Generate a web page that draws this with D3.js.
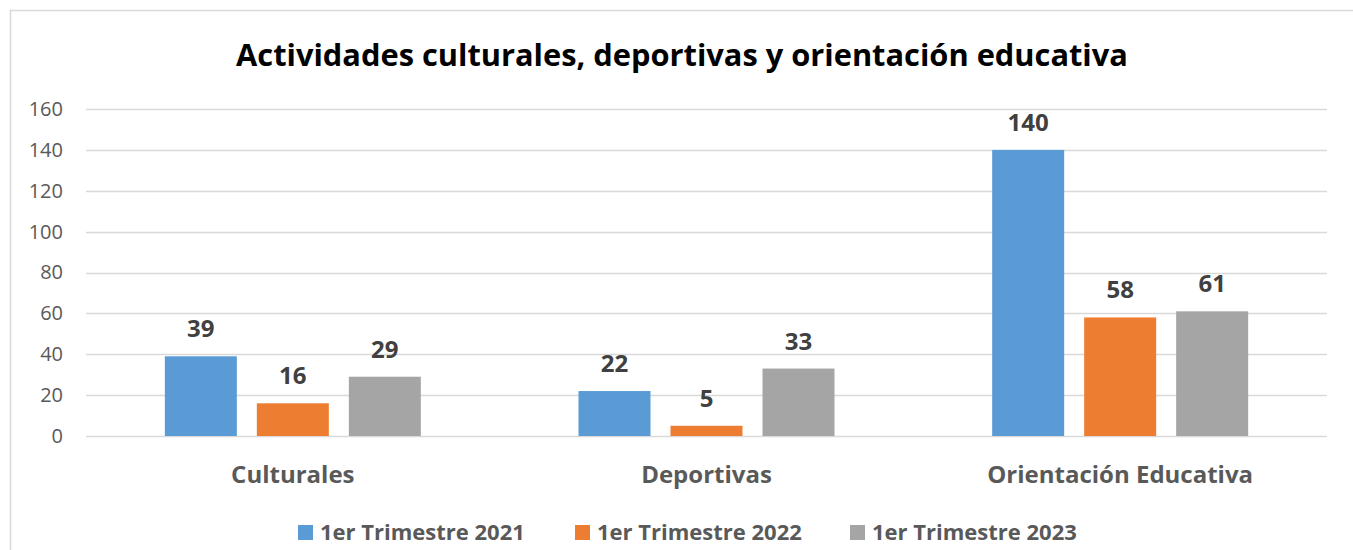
<!DOCTYPE html>
<html>
<head>
<meta charset="utf-8">
<script src="https://cdn.jsdelivr.net/npm/d3@7"></script>
<style>
  body { margin: 0; background: #fff; }
  svg { display: block; font-family: 'Open Sans', sans-serif; }
</style>
</head>
<body>
<div id="chart"></div>
<script>
var categories = ['Culturales', 'Deportivas', 'Orientación Educativa'];
var seriesNames = ['1er Trimestre 2021', '1er Trimestre 2022', '1er Trimestre 2023'];
var seriesColors = ['#5b9bd5', '#ed7d31', '#a5a5a5'];
var values2021 = [39, 22, 140];
var values2022 = [16, 5, 58];
var values2023 = [29, 33, 61];
var yTicks = [0, 20, 40, 60, 80, 100, 120, 140, 160];

var seriesValues = [values2021, values2022, values2023];

var width = 1353, height = 550;
var margin = {top: 109, right: 26, bottom: 114, left: 86};
var innerW = width - margin.left - margin.right,
    innerH = height - margin.top - margin.bottom;

var svg = d3.select('#chart')
    .append('svg')
    .attr('width', width)
    .attr('height', height);

//Chart frame
svg.append('rect')
    .attr('x', 10.5)
    .attr('y', 10.5)
    .attr('width', width)
    .attr('height', height)
    .style('fill', 'none')
    .style('stroke', '#d9d9d9')
    .style('stroke-width', 1.5);

svg.append('text')
    .attr('x', 682)
    .attr('y', 66)
    .attr('text-anchor', 'middle')
    .style('font-size', '30.8px')
    .style('font-weight', 700)
    .style('fill', '#000')
    .text('Actividades culturales, deportivas y orientación educativa');

var g = svg.append('g')
    .attr('transform', 'translate(' + margin.left + ',' + margin.top + ')');

var x0 = d3.scaleBand()
    .domain(categories)
    .range([0, innerW])
    .paddingInner(0)
    .paddingOuter(0);

var x1 = d3.scaleBand()
    .domain(d3.range(seriesNames.length))
    .range([0, 256])
    .paddingInner(20 / 92);

var y = d3.scaleLinear()
    .domain([0, 160])
    .range([innerH, 0]);

//Gridlines
g.selectAll('.grid')
    .data(yTicks)
    .enter()
    .append('line')
    .attr('x1', 0)
    .attr('x2', innerW)
    .attr('y1', function(d){ return Math.round(y(d)) + 0.5; })
    .attr('y2', function(d){ return Math.round(y(d)) + 0.5; })
    .style('stroke', '#d9d9d9')
    .style('stroke-width', 1.5);

//Y axis labels
var yAxis = g.append('g')
    .call(d3.axisLeft(y).tickValues(yTicks).tickSize(0).tickPadding(23));
yAxis.select('.domain').remove();
yAxis.selectAll('text')
    .style('font-family', "'Open Sans', sans-serif")
    .style('font-size', '20px')
    .style('fill', '#595959');

var groups = g.selectAll('.cat')
    .data(categories)
    .enter()
    .append('g')
    .attr('transform', function(d){
        return 'translate(' + (x0(d) + (x0.bandwidth() - 256) / 2) + ',0)';
    });

groups.selectAll('rect')
    .data(function(d, i){
        return seriesValues.map(function(s, j){ return {s: j, v: s[i]}; });
    })
    .enter()
    .append('rect')
    .attr('x', function(d){ return x1(d.s); })
    .attr('width', x1.bandwidth())
    .attr('y', function(d){ return y(d.v); })
    .attr('height', function(d){ return innerH - y(d.v); })
    .style('fill', function(d){ return seriesColors[d.s]; });

groups.selectAll('.lbl')
    .data(function(d, i){
        return seriesValues.map(function(s, j){ return {s: j, v: s[i]}; });
    })
    .enter()
    .append('text')
    .attr('x', function(d){ return x1(d.s) + x1.bandwidth() / 2; })
    .attr('y', function(d){ return y(d.v) - 19; })
    .attr('text-anchor', 'middle')
    .style('font-size', '24px')
    .style('font-weight', 700)
    .style('fill', '#404040')
    .text(function(d){ return d.v; });

//Category labels
g.selectAll('.catlbl')
    .data(categories)
    .enter()
    .append('text')
    .attr('x', function(d){ return x0(d) + x0.bandwidth() / 2; })
    .attr('y', innerH + 47)
    .attr('text-anchor', 'middle')
    .style('font-size', '24px')
    .style('font-weight', 700)
    .style('fill', '#595959')
    .text(function(d){ return d; });

//Legend
var legendX = [298, 575, 850];
var legend = svg.selectAll('.legend')
    .data(seriesNames)
    .enter()
    .append('g')
    .attr('transform', function(d, i){ return 'translate(' + legendX[i] + ',525)'; });

legend.append('rect')
    .attr('width', 15)
    .attr('height', 15)
    .style('fill', function(d, i){ return seriesColors[i]; });

legend.append('text')
    .attr('x', 22)
    .attr('y', 15)
    .style('font-size', '22px')
    .style('font-weight', 700)
    .style('fill', '#595959')
    .text(function(d){ return d; });
</script>
</body>
</html>
